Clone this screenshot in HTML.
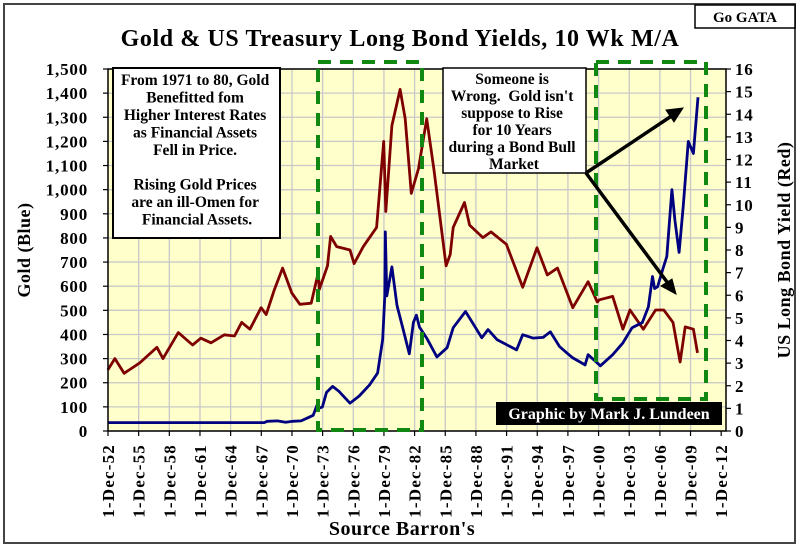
<!DOCTYPE html>
<html><head><meta charset="utf-8"><style>
html,body{margin:0;padding:0;background:#fff;}
svg{display:block;}
text{font-family:"Liberation Serif",serif;font-weight:bold;fill:#000;}
</style></head><body>
<svg id="chart" width="800" height="547" viewBox="0 0 800 547" xmlns="http://www.w3.org/2000/svg">
<rect x="4" y="4" width="791" height="539" fill="#fff" stroke="#444" stroke-width="2"/>
<rect x="108" y="69" width="618" height="362" fill="#ffffcc"/>
<g id="grid"></g>
<g id="series"></g>
<rect x="108" y="69" width="618" height="362" fill="none" stroke="#000" stroke-width="1.5"/>
<g id="axes"></g>
<text x="400" y="46" text-anchor="middle" font-size="24" letter-spacing="0.6">Gold &amp; US Treasury Long Bond Yields, 10 Wk M/A</text>
<rect x="695" y="5" width="100" height="23" fill="#fff" stroke="#000" stroke-width="1.5"/>
<text x="745" y="22" text-anchor="middle" font-size="15">Go GATA</text>
<text transform="translate(30,250) rotate(-90)" text-anchor="middle" font-size="18" letter-spacing="0.5">Gold (Blue)</text>
<text transform="translate(790,250) rotate(-90)" text-anchor="middle" font-size="18" letter-spacing="0.5">US Long Bond Yield (Red)</text>
<text x="402" y="535" text-anchor="middle" font-size="20" letter-spacing="0.5">Source Barron's</text>
<g fill="none" stroke="#118811" stroke-width="4" stroke-dasharray="13,9">
<rect x="318" y="62" width="104" height="368"/>
<rect x="596" y="62" width="110" height="337"/>
</g>
<g>
<rect x="113" y="68" width="167" height="170" fill="#fff" stroke="#000" stroke-width="2"/>
<text font-size="15.5" text-anchor="middle">
<tspan x="197" y="85">From 1971 to 80, Gold</tspan>
<tspan x="197" y="102.5">Benefitted fom</tspan>
<tspan x="197" y="120">Higher Interest Rates</tspan>
<tspan x="197" y="137.5">as Financial Assets</tspan>
<tspan x="197" y="155">Fell in Price.</tspan>
<tspan x="197" y="189.5">Rising Gold Prices</tspan>
<tspan x="197" y="207">are an ill-Omen for</tspan>
<tspan x="197" y="224.5">Financial Assets.</tspan>
</text>
</g>
<g>
<rect x="443" y="68" width="143" height="105" fill="#fff" stroke="#000" stroke-width="1.5"/>
<text font-size="15.5" text-anchor="middle">
<tspan x="514" y="84">Someone is</tspan>
<tspan x="514" y="101">Wrong.&#160; Gold isn't</tspan>
<tspan x="514" y="118">suppose to Rise</tspan>
<tspan x="514" y="135">for 10 Years</tspan>
<tspan x="514" y="152">during a Bond Bull</tspan>
<tspan x="514" y="169">Market</tspan>
</text>
</g>
<g stroke="#000" stroke-width="3.5" fill="#000">
<line x1="586" y1="173" x2="676" y2="113"/>
<polygon points="683,108 666,110 674,122" stroke-width="1"/>
<line x1="586" y1="173" x2="670" y2="286"/>
<polygon points="676,294 661,286 672,279" stroke-width="1"/>
</g>
<g>
<rect x="496" y="402" width="226" height="23" fill="#000"/>
<text x="609" y="419" text-anchor="middle" font-size="16" style="fill:#fff">Graphic by Mark J. Lundeen</text>
</g>
</svg>
<script>
const goldYears = [1952.9,1968.2,1968.5,1969.5,1970.3,1971.0,1971.8,1972.5,1973.0,1973.4,1973.6,1973.9,1974.3,1974.9,1975.5,1976.6,1977.5,1978.5,1979.3,1979.8,1980.0,1980.05,1980.2,1980.7,1981.2,1981.8,1982.4,1982.8,1983.1,1983.4,1984.1,1985.1,1986.1,1986.7,1987.9,1988.6,1989.5,1990.1,1991.0,1992.9,1993.5,1994.5,1995.5,1996.2,1997.1,1997.8,1998.4,1999.6,1999.9,2001.1,2002.3,2003.3,2004.2,2005.2,2005.8,2006.2,2006.4,2006.7,2007.2,2007.6,2008.1,2008.4,2008.8,2009.2,2009.7,2010.2,2010.65];
const goldValues = [35,35,40,42,36,40,42,55,65,110,95,100,160,185,165,115,145,190,240,380,560,825,560,680,520,420,320,450,480,430,385,307,345,428,495,448,386,420,378,336,399,385,388,411,350,324,303,274,316,270,316,365,428,449,515,640,590,598,669,723,1000,870,740,930,1200,1150,1383];
const yieldYears = [1952.9,1953.6,1954.5,1956.0,1957.7,1958.3,1959.8,1961.2,1962.0,1963.0,1964.3,1965.3,1966.0,1966.8,1967.9,1968.4,1969.2,1970.0,1970.9,1971.7,1972.8,1973.5,1973.6,1974.4,1974.7,1975.3,1976.6,1977.0,1977.9,1979.2,1979.9,1980.1,1980.7,1981.5,1982.0,1982.6,1983.3,1984.1,1984.8,1986.0,1986.4,1986.7,1987.8,1988.3,1989.6,1990.4,1991.9,1993.5,1994.9,1995.9,1996.9,1998.4,1999.9,2000.8,2001.0,2002.3,2003.3,2004.0,2005.3,2006.5,2007.3,2008.2,2008.9,2009.4,2010.2,2010.6];
const yieldValues = [2.7,3.2,2.55,3.0,3.7,3.2,4.35,3.8,4.1,3.9,4.25,4.2,4.8,4.5,5.45,5.15,6.25,7.2,6.1,5.6,5.65,7.0,6.25,7.3,8.6,8.15,8.0,7.4,8.15,9.0,12.8,9.7,13.5,15.1,13.8,10.5,11.6,13.8,11.6,7.3,7.8,9.0,10.1,9.1,8.55,8.8,8.25,6.35,8.1,6.9,7.2,5.45,6.6,5.7,5.8,5.95,4.5,5.35,4.5,5.35,5.35,4.8,3.05,4.6,4.5,3.45];
const goldTicks = [0,100,200,300,400,500,600,700,800,900,1000,1100,1200,1300,1400,1500];
const goldTickLabels = ["0","100","200","300","400","500","600","700","800","900","1,000","1,100","1,200","1,300","1,400","1,500"];
const yieldTicks = [0,1,2,3,4,5,6,7,8,9,10,11,12,13,14,15,16];
const xTickYears = [1952,1955,1958,1961,1964,1967,1970,1973,1976,1979,1982,1985,1988,1991,1994,1997,2000,2003,2006,2009,2012];

const NS = "http://www.w3.org/2000/svg";
const X0 = 108, XPY = 10.22, YB = 431, YT = 69;
function xScale(yr){ return X0 + (yr - 1952.92) * XPY; }
function yGold(v){ return YB - v * (YB - YT) / 1500; }
function yYield(v){ return YB - v * (YB - YT) / 16; }
function mk(tag, attrs, parent){ const e = document.createElementNS(NS, tag); for (const k in attrs) e.setAttribute(k, attrs[k]); parent.appendChild(e); return e; }

const grid = document.getElementById('grid');
const axes = document.getElementById('axes');
const series = document.getElementById('series');

goldTicks.forEach((v, i) => {
  const y = yGold(v);
  const gl = mk('line', {x1: X0, x2: 726, y1: y, y2: y, stroke: '#c8c8c8', 'stroke-width': 1.3}, grid);
  
  
  const tk = mk('line', {x1: X0 - 5, x2: X0, y1: y, y2: y, stroke: '#000', 'stroke-width': 1.2}, axes);
  
  
  const t = mk('text', {x: 88, y: y + 6, 'text-anchor': 'end', 'font-size': 17, 'letter-spacing': 0.8}, axes);
  t.textContent = goldTickLabels[i];
  
  
});
yieldTicks.forEach(v => {
  const y = yYield(v);
  const tk = mk('line', {x1: 726, x2: 731, y1: y, y2: y, stroke: '#000', 'stroke-width': 1.2}, axes);
  
  
  const t = mk('text', {x: 735, y: y + 6, 'text-anchor': 'start', 'font-size': 17, 'letter-spacing': 0.8}, axes);
  t.textContent = String(v);
  
  
});
xTickYears.forEach(yr => {
  const x = xScale(yr + 0.92);
  if (yr > 1952 && yr < 2012) {
    const gl = mk('line', {x1: x, x2: x, y1: YT, y2: YB, stroke: '#c8c8c8', 'stroke-width': 1.3}, grid);
    
    
  }
  const tk = mk('line', {x1: x, x2: x, y1: YB, y2: YB + 5, stroke: '#000', 'stroke-width': 1.2}, axes);
  
  
  const t = mk('text', {transform: 'translate(' + (x + 6) + ',444) rotate(-90)', 'text-anchor': 'end', 'font-size': 17, 'letter-spacing': 1.2}, axes);
  t.textContent = '1-Dec-' + String(yr % 100).padStart(2, '0');
  
  
});

const yieldPath = mk('polyline', {points: yieldYears.map((yr, i) => xScale(yr).toFixed(1) + ',' + yYield(yieldValues[i]).toFixed(1)).join(' '), fill: 'none', stroke: '#7f0000', 'stroke-width': 2.8, 'stroke-linejoin': 'round'}, series);


const goldPath = mk('polyline', {points: goldYears.map((yr, i) => xScale(yr).toFixed(1) + ',' + yGold(goldValues[i]).toFixed(1)).join(' '), fill: 'none', stroke: '#000080', 'stroke-width': 2.8, 'stroke-linejoin': 'round'}, series);


</script>
</body></html>
